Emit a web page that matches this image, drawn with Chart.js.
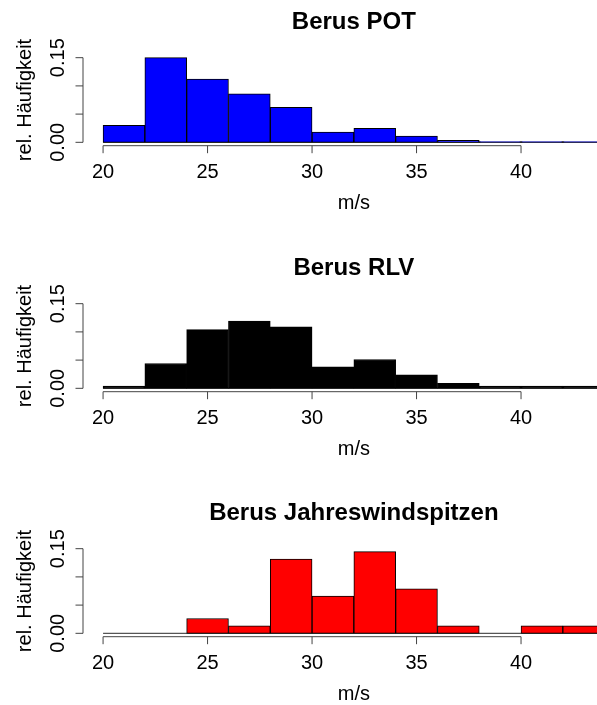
<!DOCTYPE html>
<html>
<head>
<meta charset="utf-8">
<script src="https://cdn.jsdelivr.net/npm/chart.js@4.4.0/dist/chart.umd.min.js"></script>
<style>
html, body { margin:0; padding:0; background:#fff; overflow:hidden; width:597px; height:705px; }
.panel { position:absolute; left:0; width:640px; height:246px; }
</style>
</head>
<body>
<div class="panel" style="top:0px"><canvas id="c1" width="640" height="246"></canvas></div>
<div class="panel" style="top:246px"><canvas id="c2" width="640" height="246"></canvas></div>
<div class="panel" style="top:491px"><canvas id="c3" width="640" height="246"></canvas></div>
<script>
// ---- data ----
const binEdges = [20, 22, 24, 26, 28, 30, 32, 34, 36, 38, 40, 42, 44];
const potValues = [0.030, 0.150, 0.112, 0.086, 0.062, 0.018, 0.025, 0.011, 0.0035, 0.0015, 0.0015, 0.0015];
const rlvValues = [0.004, 0.044, 0.104, 0.119, 0.109, 0.038, 0.051, 0.024, 0.009, 0.004, 0.004, 0.004];
const jwsValues = [0, 0, 0.0263, 0.0132, 0.1316, 0.0658, 0.1447, 0.0789, 0.0132, 0, 0.0132, 0.0132];
const panelTitles = ['Berus POT', 'Berus RLV', 'Berus Jahreswindspitzen'];
const panelColors = ['#0000FF', '#000000', '#FF0000'];
const xTickValues = [20, 25, 30, 35, 40];
const xTickLabels = ['20', '25', '30', '35', '40'];
const yTickValues = [0, 0.05, 0.10, 0.15];
const yTickLabels = ['0.00', '', '', '0.15'];
const xAxisTitle = 'm/s';
const yAxisTitle = 'rel. H\u00e4ufigkeit';

const FONT = '"Liberation Sans", Arial, Helvetica, sans-serif';
const AXIS_COLOR = '#444';

const rPlot = {
  id: 'rPlot',
  beforeDatasetsDraw(chart) {
    // zero line of the histogram (outline of empty bins)
    const ctx = chart.ctx, xs = chart.scales.x, ys = chart.scales.y, a = chart.chartArea;
    ctx.save();
    ctx.beginPath();
    ctx.rect(a.left, a.top, a.right - a.left, a.bottom - a.top);
    ctx.clip();
    ctx.strokeStyle = '#555';
    ctx.lineWidth = 1.2;
    const y0 = ys.getPixelForValue(0);
    ctx.beginPath();
    ctx.moveTo(xs.getPixelForValue(binEdges[0]), y0);
    ctx.lineTo(xs.getPixelForValue(binEdges[binEdges.length - 1]), y0);
    ctx.stroke();
    ctx.restore();
  },
  afterDraw(chart, args, opts) {
    const ctx = chart.ctx, xs = chart.scales.x, ys = chart.scales.y, a = chart.chartArea;
    ctx.save();
    ctx.strokeStyle = AXIS_COLOR;
    ctx.lineWidth = 1;
    ctx.fillStyle = '#000';
    // x axis
    const yAx = a.bottom;
    ctx.beginPath();
    ctx.moveTo(xs.getPixelForValue(xTickValues[0]), yAx);
    ctx.lineTo(xs.getPixelForValue(xTickValues[xTickValues.length - 1]), yAx);
    xTickValues.forEach(v => {
      const px = xs.getPixelForValue(v);
      ctx.moveTo(px, yAx);
      ctx.lineTo(px, yAx + 7.5);
    });
    ctx.stroke();
    ctx.font = '20px ' + FONT;
    ctx.textAlign = 'center';
    ctx.textBaseline = 'middle';
    xTickValues.forEach((v, i) => {
      ctx.fillText(xTickLabels[i], xs.getPixelForValue(v), yAx + 26.5);
    });
    // x title
    ctx.fillText(xAxisTitle, (a.left + a.right) / 2, yAx + 57.5);
    // y axis
    const xAx = a.left;
    ctx.beginPath();
    ctx.moveTo(xAx, ys.getPixelForValue(yTickValues[0]));
    ctx.lineTo(xAx, ys.getPixelForValue(yTickValues[yTickValues.length - 1]));
    yTickValues.forEach(v => {
      const py = ys.getPixelForValue(v);
      ctx.moveTo(xAx, py);
      ctx.lineTo(xAx - 7.5, py);
    });
    ctx.stroke();
    yTickValues.forEach((v, i) => {
      if (!yTickLabels[i]) return;
      const py = ys.getPixelForValue(v);
      ctx.save();
      ctx.translate(xAx - 25, py);
      ctx.rotate(-Math.PI / 2);
      ctx.fillText(yTickLabels[i], 0, 0);
      ctx.restore();
    });
    // y title
    ctx.save();
    ctx.translate(xAx - 58, (a.top + a.bottom) / 2);
    ctx.rotate(-Math.PI / 2);
    ctx.fillText(yAxisTitle, 0, 0);
    ctx.restore();
    // main title
    ctx.font = 'bold 24px ' + FONT;
    ctx.fillText(opts.title, (a.left + a.right) / 2, 22);
    ctx.restore();
  }
};

function makeBars(values) {
  return values.map((v, i) => ({ x: (binEdges[i] + binEdges[i + 1]) / 2, y: v }));
}

const allValues = [potValues, rlvValues, jwsValues];
['c1', 'c2', 'c3'].forEach((id, k) => {
  new Chart(document.getElementById(id), {
    type: 'bar',
    data: {
      datasets: [{
        data: makeBars(allValues[k]),
        backgroundColor: panelColors[k],
        borderColor: '#000',
        borderWidth: 1,
        borderSkipped: false,
        barPercentage: 1,
        categoryPercentage: 1
      }]
    },
    options: {
      responsive: false,
      devicePixelRatio: 1,
      animation: false,
      events: [],
      layout: { padding: { left: 83, right: 15.3, top: 54.3, bottom: 100.3 } },
      scales: {
        x: { type: 'linear', min: 19.04, max: 44.96, offset: false, display: false, grid: { offset: false } },
        y: { type: 'linear', min: -0.006, max: 0.156, display: false }
      },
      plugins: {
        legend: { display: false },
        tooltip: { enabled: false },
        title: { display: false },
        rPlot: { title: panelTitles[k] }
      }
    },
    plugins: [rPlot]
  });
});
</script>
</body>
</html>
